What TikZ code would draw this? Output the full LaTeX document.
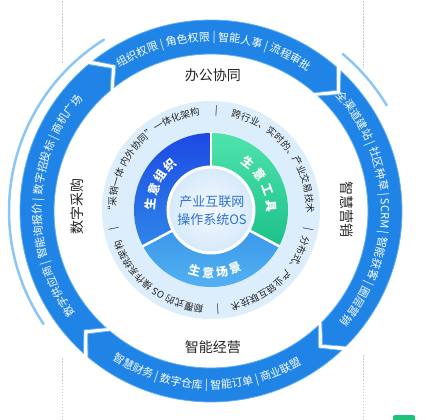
\documentclass[tikz,border=0pt]{standalone}
\usepackage{fontspec}
\setmainfont{Noto Sans CJK SC}
\usetikzlibrary{decorations.text}
\definecolor{bandblue}{HTML}{1F84E6}
\definecolor{bandedge}{HTML}{62B0F2}
\definecolor{haloblue}{HTML}{8CC6F5}
\definecolor{diskblue}{HTML}{DCEDFB}
\definecolor{corelight}{HTML}{F4F9FE}
\definecolor{coreblue}{HTML}{D6E9FA}
\definecolor{orgtop}{HTML}{1D49E4}
\definecolor{orgbot}{HTML}{2F86E9}
\definecolor{tooltop}{HTML}{4FE3AE}
\definecolor{toolbot}{HTML}{1CC189}
\definecolor{scentop}{HTML}{3A98EA}
\definecolor{scenbot}{HTML}{58B6F3}
\definecolor{ostext}{HTML}{2D72D0}
\definecolor{labelgray}{HTML}{262626}
\definecolor{guidegray}{HTML}{C3CCD6}
\definecolor{logogreen}{HTML}{1EC27A}

\newcommand{\bandfont}{\fontsize{11}{11}\selectfont\color{white}}
\newcommand{\ringfont}{\fontsize{9.5}{9.5}\selectfont\color{labelgray}}

\tikzset{
  guide/.style={guidegray, line width=0.6pt, dash pattern=on 1.5pt off 1.5pt},
  halo/.style={haloblue, line width=2.5pt, line cap=round},
  bandpart/.style={fill=bandblue, draw=bandedge, line width=0.8pt},
  arctext/.style={decorate, decoration={text along path, text align=center, text={#1}}},
  catlabel/.style={font=\fontsize{14}{14}\selectfont, text=labelgray, inner sep=0pt},
  seglabel/.style={font=\fontsize{12}{12}\selectfont\bfseries, text=white, inner sep=0pt},
  sepbar/.style={font=\ringfont, inner sep=0pt},
}

\begin{document}
\begin{tikzpicture}[x=1pt, y=1pt]
\useasboundingbox (-211,-209) rectangle (215,211);

% dashed guides behind the wheel
\draw[guide] (-149,-209) -- (-149,211);
\draw[guide] (152,-209) -- (152,211);
\fill[white] (0,0) circle[radius=209];
\fill[logogreen, rounded corners=2pt] (182,-216) rectangle (204,-204);

% thin outer arcs
\draw[halo] (122:202) arc[start angle=122, end angle=214, radius=202];
\draw[halo] (50:205) arc[start angle=50, end angle=31, radius=205];

% outer band, four arrows running clockwise
\foreach \a/\b in {129/48, 48/-46, -46/-131, -131/-231} {
  \pgfmathsetmacro{\sa}{\a-0.9}
  \pgfmathsetmacro{\eb}{\b+0.9}
  \path[bandpart] (\sa:191) arc[start angle=\sa, end angle=\eb, radius=191]
    -- ({\eb-5}:174) -- (\eb:157) arc[start angle=\eb, end angle=\sa, radius=157]
    -- ({\sa-5}:174) -- cycle;
}

\path[arctext={|\bandfont|组织权限 {|} 角色权限 {|} 智能人事 {|} 流程审批}]
  (134:170) arc[start angle=134, end angle=44, radius=170];
\path[arctext={|\bandfont|全渠道建站 {|} 社区种草 {|} SCRM {|} 智能获客 {|} 圈层营销}]
  (50:170) arc[start angle=50, end angle=-48, radius=170];
\path[arctext={|\bandfont|智慧财务 {|} 数字仓库 {|} 智能订单 {|} 商业联盟}]
  (223:178) arc[start angle=223, end angle=314, radius=178];
\path[arctext={|\bandfont|数字供应商 {|} 智能询报价 {|} 数字招投标 {|} 商机广场}]
  (228:170) arc[start angle=228, end angle=128, radius=170];

\node[catlabel] (office) at (2,136) {办公协同};
\node[catlabel, rotate=-90] (market) at (136,1) {智慧营销};
\node[catlabel] (manage) at (2,-136) {智能经营};
\node[catlabel, rotate=90] (purchase) at (-134,4) {数字采购};

% inner disk
\begin{scope}[shift={(0,1)}]
\fill[diskblue] (0,0) circle[radius=109];

\path[arctext={|\ringfont|“采销一体 内外协同”一体化架构}]
  (190:95.4) arc[start angle=190, end angle=90, radius=95.4];
\path[arctext={|\ringfont|跨行业、实时的、产业交易技术}]
  (85:95.4) arc[start angle=85, end angle=-9, radius=95.4];
\path[arctext={|\ringfont|分布式、产业链互联技术}]
  (-13:95.4) arc[start angle=-13, end angle=-81, radius=95.4];
\path[arctext={|\ringfont|颠覆式的 OS 操作系统架构}]
  (270:95.4) arc[start angle=270, end angle=194, radius=95.4];
\foreach \ang [count=\i] in {87,-11,-86,191}
  \node[sepbar, rotate=\ang-90] (bar\i) at (\ang:99) {|};

\shade[top color=orgtop, bottom color=orgbot] (90:77) arc[start angle=90, end angle=208, radius=77]
  -- (208:43) arc[start angle=208, end angle=90, radius=43] -- cycle;
\shade[top color=tooltop, bottom color=toolbot] (90:77) arc[start angle=90, end angle=-28, radius=77]
  -- (-28:43) arc[start angle=-28, end angle=90, radius=43] -- cycle;
\shade[top color=scentop, bottom color=scenbot] (208:77) arc[start angle=208, end angle=332, radius=77]
  -- (332:43) arc[start angle=332, end angle=208, radius=43] -- cycle;
\foreach \ang in {90,208,332}
  \draw[white, line width=2.5pt] (\ang:42) -- (\ang:78);
\shade[inner color=corelight, outer color=coreblue, draw=white, line width=3pt] (0,0) circle[radius=43];

\foreach \ch [count=\i] in {生,意,组,织} {
  \pgfmathsetmacro{\ang}{174-(\i-1)*14}
  \node[seglabel, rotate=\ang-90] (org\i) at (\ang:61) {\ch};
}
\foreach \ch [count=\i] in {生,意,工,具} {
  \pgfmathsetmacro{\ang}{52-(\i-1)*16}
  \node[seglabel, rotate=\ang-90] (tool\i) at (\ang:60) {\ch};
}
\foreach \ch [count=\i] in {生,意,场,景} {
  \pgfmathsetmacro{\ang}{255+(\i-1)*12.5}
  \node[seglabel, rotate=\ang+90] (scene\i) at (\ang:63) {\ch};
}

\node[font=\fontsize{13}{18}\selectfont, text=ostext, align=center, inner sep=0pt] (os) at (1,-1) {产业互联网\\操作系统OS};
\end{scope}
\end{tikzpicture}
\end{document}
